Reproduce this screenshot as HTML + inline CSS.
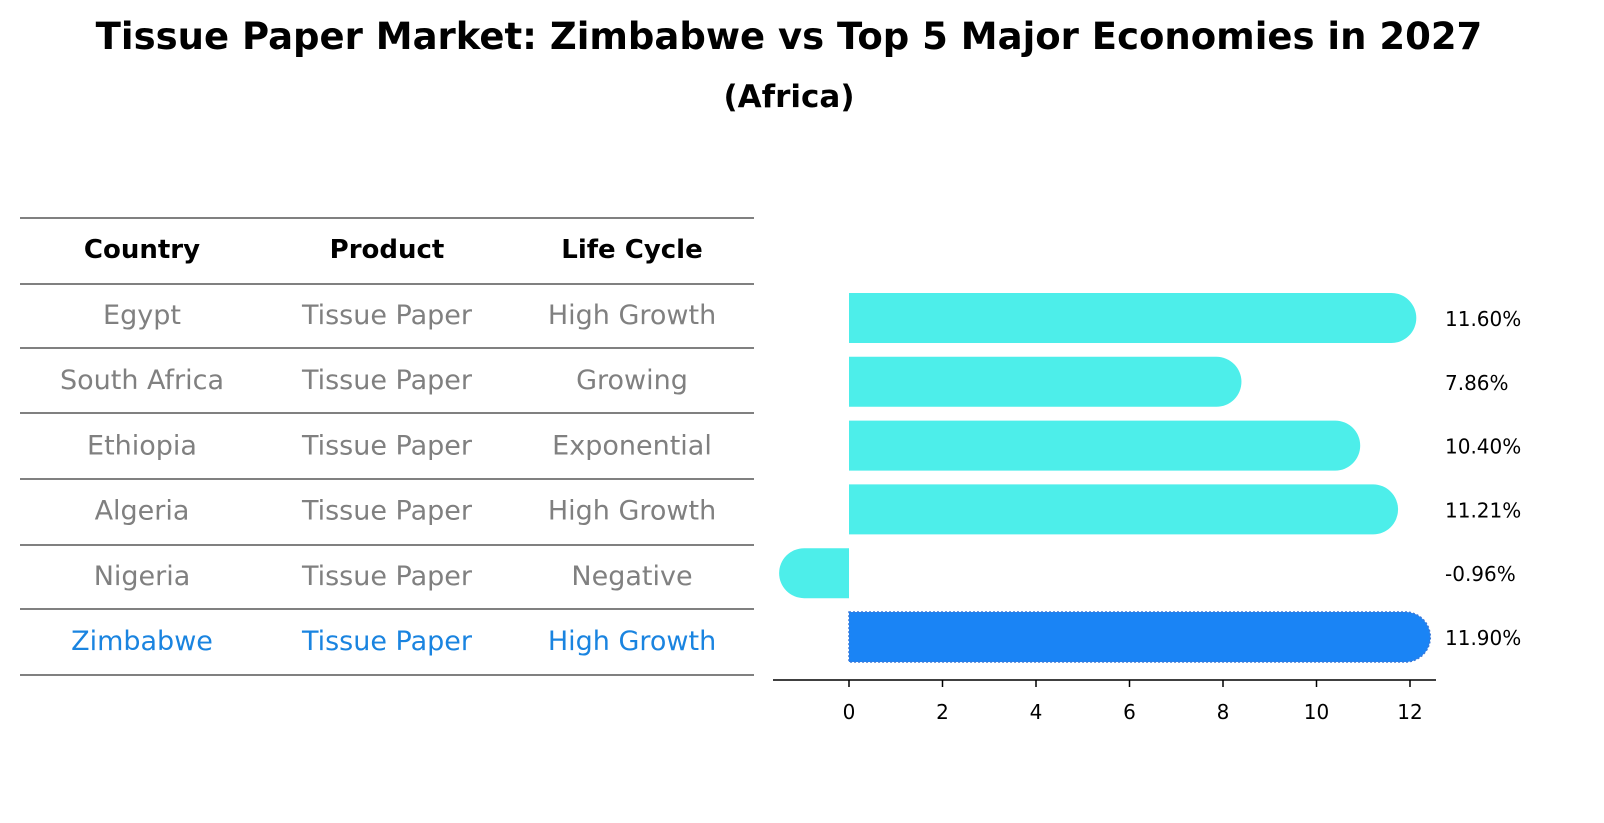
<!DOCTYPE html>
<html><head><meta charset="utf-8"><style>
body{margin:0;background:#fff;font-family:"DejaVu Sans","Liberation Sans",sans-serif;}
svg{display:block}
</style></head><body>
<svg width="1604" height="823" xmlns="http://www.w3.org/2000/svg">
<text x="789" y="49" text-anchor="middle" font-size="37" font-weight="bold">Tissue Paper Market: Zimbabwe vs Top 5 Major Economies in 2027</text>
<text x="789" y="107" text-anchor="middle" font-size="31" font-weight="bold">(Africa)</text>
<g id="table"></g>
<g id="bars"></g>
</svg>
<script>
const countries=["Egypt","South Africa","Ethiopia","Algeria","Nigeria","Zimbabwe"];
const products=["Tissue Paper","Tissue Paper","Tissue Paper","Tissue Paper","Tissue Paper","Tissue Paper"];
const lifeCycles=["High Growth","Growing","Exponential","High Growth","Negative","High Growth"];
const growth=[11.60,7.86,10.40,11.21,-0.96,11.90];
const ticks=[0,2,4,6,8,10,12];
const NS="http://www.w3.org/2000/svg";
function mk(t,a,p){const e=document.createElementNS(NS,t);for(const k in a)e.setAttribute(k,a[k]);p.appendChild(e);return e;}
const tb=document.getElementById('table');
const lineYs=[218,284,348,413,479,545,609,675];
lineYs.forEach(y=>{const l=mk('line',{x1:20,x2:754,y1:y,y2:y,stroke:'#000','stroke-width':1},tb);

});
const colX=[142,387,632];
["Country","Product","Life Cycle"].forEach((h,i)=>{const t=mk('text',{x:colX[i],y:258,'text-anchor':'middle','font-size':26,'font-weight':'bold'},tb);t.textContent=h;

});
countries.forEach((c,r)=>{const y=324+r*65.2;const col=r===countries.length-1?'#1a84e0':'#808080';
[c,products[r],lifeCycles[r]].forEach((v,i)=>{const t=mk('text',{x:colX[i],y:y,'text-anchor':'middle','font-size':27,fill:col},tb);t.textContent=v;

});});
const bg=document.getElementById('bars');
const x0=849,unit=561/12,R=25;
const xs=v=>x0+v*unit;
growth.forEach((v,i)=>{const cy=318+i*63.8;const last=i===growth.length-1;
const xe=xs(v);let d;
if(v>=0){d=`M${x0},${cy-R} L${xe},${cy-R} A${R},${R} 0 0 1 ${xe},${cy+R} L${x0},${cy+R} Z`;}
else{d=`M${x0},${cy-R} L${xe},${cy-R} A${R},${R} 0 0 0 ${xe},${cy+R} L${x0},${cy+R} Z`;}
const p=mk('path',{d:d,fill:last?'#1a84f5':'#4deeea'},bg);
if(last){p.setAttribute('stroke','#3a78d8');p.setAttribute('stroke-dasharray','2,2');p.setAttribute('stroke-width','1.5');}


const t=mk('text',{x:1445,y:cy+8,'font-size':20},bg);t.textContent=v.toFixed(2)+'%';

});
const ax=mk('line',{x1:773,x2:1436,y1:680,y2:680,stroke:'#000','stroke-width':1.5},bg);


ticks.forEach(v=>{const tk=mk('line',{x1:xs(v),x2:xs(v),y1:680,y2:687,stroke:'#000','stroke-width':1.5},bg);


const t=mk('text',{x:xs(v),y:719,'text-anchor':'middle','font-size':20},bg);t.textContent=v;

});
</script>
</body></html>
